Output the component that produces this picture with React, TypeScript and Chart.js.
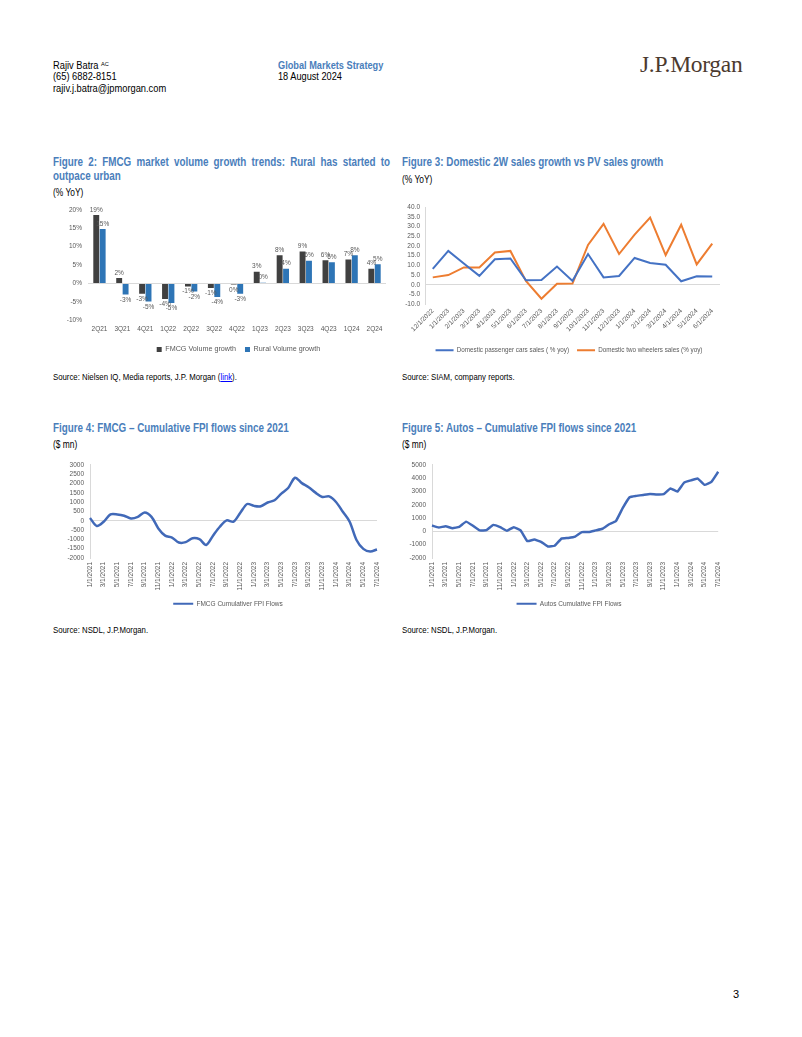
import React, { useEffect, useRef } from "react";
import { Chart, registerables } from "chart.js";

Chart.register(...registerables);

// ---------- Figure 2 data ----------
const fig2Categories = ["2Q21", "3Q21", "4Q21", "1Q22", "2Q22", "3Q22", "4Q22", "1Q23", "2Q23", "3Q23", "4Q23", "1Q24", "2Q24"];
const fig2Fmcg = [18.6, 1.5, -2.8, -4.2, -0.8, -1.2, -0.3, 3.2, 7.7, 8.7, 6.3, 6.5, 4.0];
const fig2Rural = [14.8, -3.0, -4.9, -5.3, -2.2, -3.7, -2.8, 0.2, 4.0, 6.2, 5.8, 7.7, 5.2];

// ---------- Figure 3 data ----------
const fig3Labels = ["12/1/2022", "1/1/2023", "2/1/2023", "3/1/2023", "4/1/2023", "5/1/2023", "6/1/2023", "7/1/2023", "8/1/2023", "9/1/2023", "10/1/2023", "11/1/2023", "12/1/2023", "1/1/2024", "2/1/2024", "3/1/2024", "4/1/2024", "5/1/2024", "6/1/2024"];
const fig3Passenger = [8.2, 17.4, 10.9, 4.6, 13.1, 13.5, 2.3, 2.4, 9.4, 2.0, 15.8, 3.8, 4.5, 13.8, 11.2, 10.3, 1.8, 4.4, 4.3];
const fig3TwoWheelers = [3.8, 5.0, 8.9, 8.9, 16.6, 17.4, 2.0, -7.2, 0.5, 0.6, 20.5, 31.3, 15.8, 25.8, 34.6, 15.3, 30.9, 10.5, 21.2];

// ---------- Figure 4 / 5 data ----------
const monthLabels = [
  "1/1/2021", "2/1/2021", "3/1/2021", "4/1/2021", "5/1/2021", "6/1/2021", "7/1/2021", "8/1/2021", "9/1/2021", "10/1/2021", "11/1/2021", "12/1/2021",
  "1/1/2022", "2/1/2022", "3/1/2022", "4/1/2022", "5/1/2022", "6/1/2022", "7/1/2022", "8/1/2022", "9/1/2022", "10/1/2022", "11/1/2022", "12/1/2022",
  "1/1/2023", "2/1/2023", "3/1/2023", "4/1/2023", "5/1/2023", "6/1/2023", "7/1/2023", "8/1/2023", "9/1/2023", "10/1/2023", "11/1/2023", "12/1/2023",
  "1/1/2024", "2/1/2024", "3/1/2024", "4/1/2024", "5/1/2024", "6/1/2024", "7/1/2024",
];
const fig4Fmcg = [
  150, -280, -50, 340, 340, 270, 125, 210, 440, 210,
  -410, -800, -900, -1170, -1150, -940, -990, -1300, -800, -320,
  20, -50, 430, 900, 800, 780, 980, 1100, 1460, 1760,
  2310, 2020, 1800, 1510, 1280, 1310, 1010, 480, -50, -1030,
  -1510, -1650, -1540,
];
const fig5Autos = [
  440, 290, 390, 245, 340, 735, 420, 75, 100, 490,
  320, 50, 320, 75, -735, -610, -785, -1130, -1080, -540,
  -490, -390, -50, -50, 75, 200, 540, 785, 1765, 2570,
  2670, 2745, 2820, 2770, 2795, 3235, 2990, 3670, 3840, 3970,
  3500, 3725, 4485,
];

const CHART_FONT = '"Liberation Sans", Arial, sans-serif';
const TEXT_GRAY = "#595959";
const AXIS_GRAY = "#d9d9d9";
const TITLE_BLUE = "#4a7ebb";

const zeroGrid = {
  drawTicks: false,
  color: (c: any) => (c.tick && c.tick.value === 0 ? AXIS_GRAY : "rgba(0,0,0,0)"),
  lineWidth: 1,
};

const lineLegendLabels = (chart: any) =>
  Chart.defaults.plugins.legend.labels.generateLabels(chart).map((l: any) => ({
    ...l,
    fillStyle: l.strokeStyle,
    lineWidth: 0,
  }));

// shifts the legend horizontally by a given number of pixels
function legendShift(dx: number) {
  return {
    id: "legendShift",
    beforeDraw(chart: any) {
      const lg = chart.legend;
      if (lg && !lg._shifted) {
        lg.left += dx;
        lg.right += dx;
        lg._shifted = true;
      }
    },
  };
}

const barValueLabels = {
  id: "barValueLabels",
  afterDatasetsDraw(chart: any) {
    const ctx = chart.ctx;
    ctx.save();
    ctx.font = `6.5px ${CHART_FONT}`;
    ctx.fillStyle = TEXT_GRAY;
    ctx.textAlign = "center";
    chart.data.datasets.forEach((ds: any, di: number) => {
      const meta = chart.getDatasetMeta(di);
      meta.data.forEach((bar: any, i: number) => {
        const v = ds.data[i];
        const t = String(Math.round(v)) + "%";
        if (v >= 0) {
          ctx.textBaseline = "bottom";
          ctx.fillText(t, bar.x, bar.y - 2);
        } else {
          ctx.textBaseline = "top";
          ctx.fillText(t, bar.x, bar.y + 2);
        }
      });
    });
    ctx.restore();
  },
};

function ChartBox({ config, style }: { config: any; style: React.CSSProperties }) {
  const ref = useRef<HTMLCanvasElement | null>(null);
  useEffect(() => {
    if (!ref.current) return;
    const chart = new Chart(ref.current, config);
    return () => chart.destroy();
  }, []);
  return (
    <div style={{ position: "absolute", ...style }}>
      <canvas ref={ref} />
    </div>
  );
}

function fixWidth(w: number) {
  return (scale: any) => {
    scale.width = w;
  };
}
function fixHeight(h: number) {
  return (scale: any) => {
    scale.height = h;
  };
}

const fig2Config = {
  type: "bar",
  data: {
    labels: fig2Categories,
    datasets: [
      { label: "FMCG Volume growth", data: fig2Fmcg, backgroundColor: "#404040", categoryPercentage: 0.56, barPercentage: 0.92 },
      { label: "Rural Volume growth", data: fig2Rural, backgroundColor: "#2e75b6", categoryPercentage: 0.56, barPercentage: 0.92 },
    ],
  },
  options: {
    animation: false,
    responsive: true,
    maintainAspectRatio: false,
    layout: { padding: { top: 9, right: 9, left: 0, bottom: 2 } },
    plugins: {
      legend: {
        position: "bottom",
        labels: { boxWidth: 5, boxHeight: 5, padding: 9, color: TEXT_GRAY, font: { family: CHART_FONT, size: 7.2 } },
      },
      tooltip: { enabled: false },
    },
    scales: {
      x: {
        grid: { display: false, drawTicks: false },
        border: { display: false },
        ticks: { color: TEXT_GRAY, font: { family: CHART_FONT, size: 6.5 }, padding: 5, maxRotation: 0 },
        afterFit: fixHeight(16.5),
      },
      y: {
        min: -10,
        max: 20,
        ticks: { stepSize: 5, autoSkip: false, color: TEXT_GRAY, font: { family: CHART_FONT, size: 6.5 }, padding: 6, callback: (v: any) => v + "%" },
        grid: zeroGrid,
        border: { display: false },
        afterFit: fixWidth(33),
      },
    },
  },
  plugins: [barValueLabels, legendShift(18)],
};

const fig3Config = {
  type: "line",
  data: {
    labels: fig3Labels,
    datasets: [
      { label: "Domestic passenger cars sales ( % yoy)", data: fig3Passenger, borderColor: "#4472c4", backgroundColor: "#4472c4", borderWidth: 2, pointRadius: 0, tension: 0 },
      { label: "Domestic two wheelers sales (% yoy)", data: fig3TwoWheelers, borderColor: "#ed7d31", backgroundColor: "#ed7d31", borderWidth: 2, pointRadius: 0, tension: 0 },
    ],
  },
  options: {
    animation: false,
    responsive: true,
    maintainAspectRatio: false,
    layout: { padding: { top: 9, right: 10, left: 0, bottom: 4.5 } },
    plugins: {
      legend: {
        position: "bottom",
        labels: { boxWidth: 18, boxHeight: 2, padding: 8, color: TEXT_GRAY, font: { family: CHART_FONT, size: 6.3 }, generateLabels: lineLegendLabels },
      },
      tooltip: { enabled: false },
    },
    scales: {
      x: {
        offset: true,
        grid: { display: false, drawTicks: false },
        border: { display: false },
        ticks: { color: TEXT_GRAY, font: { family: CHART_FONT, size: 6.5 }, padding: 3, autoSkip: false, minRotation: 45, maxRotation: 45 },
        afterFit: fixHeight(35),
      },
      y: {
        min: -10,
        max: 40,
        ticks: { stepSize: 5, autoSkip: false, color: TEXT_GRAY, font: { family: CHART_FONT, size: 6.5 }, padding: 5, callback: (v: any) => Number(v).toFixed(1) },
        grid: zeroGrid,
        border: { display: true, color: AXIS_GRAY },
        afterFit: fixWidth(25),
      },
    },
  },
  plugins: [legendShift(9)],
};

function flowConfig(label: string, data: number[], min: number, max: number, step: number, yWidth: number, rightPad: number, tension: number, dx: number) {
  return {
    type: "line",
    data: {
      labels: monthLabels,
      datasets: [{ label, data, borderColor: "#4169b8", backgroundColor: "#4169b8", borderWidth: 2.5, pointRadius: 0, tension }],
    },
    options: {
      animation: false,
      responsive: true,
      maintainAspectRatio: false,
      layout: { padding: { top: 9, right: rightPad, left: 0, bottom: 4 } },
      plugins: {
        legend: {
          position: "bottom",
          labels: { boxWidth: 20, boxHeight: 2, padding: 8, color: TEXT_GRAY, font: { family: CHART_FONT, size: 6.5 }, generateLabels: lineLegendLabels },
        },
        tooltip: { enabled: false },
      },
      scales: {
        x: {
          offset: false,
          grid: { display: false, drawTicks: false },
          border: { display: false },
          ticks: {
            color: TEXT_GRAY,
            font: { family: CHART_FONT, size: 6.5 },
            padding: 4,
            autoSkip: false,
            minRotation: 90,
            maxRotation: 90,
            callback: (_v: any, i: number) => (i % 2 === 0 ? monthLabels[i] : ""),
          },
          afterFit: fixHeight(34.5),
        },
        y: {
          min,
          max,
          ticks: { stepSize: step, autoSkip: false, color: TEXT_GRAY, font: { family: CHART_FONT, size: 6.5 }, padding: 6, callback: (v: any) => String(v) },
          grid: zeroGrid,
          border: { display: true, color: AXIS_GRAY },
          afterFit: fixWidth(yWidth),
        },
      },
    },
    plugins: [legendShift(dx)],
  };
}

const fig4Config = flowConfig("FMCG Cumulativer FPI Flows", fig4Fmcg, -2000, 3000, 500, 35, 18, 0.3, 12);
const fig5Config = flowConfig("Autos Cumulative FPI Flows", fig5Autos, -2000, 5000, 1000, 32, 10, 0.1, 9);

const txt = (extra: React.CSSProperties): React.CSSProperties => ({
  position: "absolute",
  whiteSpace: "nowrap",
  fontFamily: CHART_FONT,
  color: "#000",
  transformOrigin: "0 0",
  ...extra,
});

const NARROW_SCALE = "scaleX(0.82)";

const titleStyle = (left: number, top: number): React.CSSProperties =>
  txt({ left, top, fontWeight: "bold", fontSize: 12, color: TITLE_BLUE, lineHeight: "14px", transform: NARROW_SCALE });

const unitStyle = (left: number, top: number): React.CSSProperties =>
  txt({ left, top, fontSize: 10.5, lineHeight: "12px", transform: "scaleX(0.8)" });

const sourceStyle = (left: number, top: number): React.CSSProperties =>
  txt({ left, top, fontSize: 9.5, lineHeight: "11px", transform: "scaleX(0.82)" });

export default function App() {
  useEffect(() => {
    document.body.style.margin = "0";
  }, []);
  return (
    <div style={{ position: "absolute", left: 0, top: 0, width: 802, height: 1037, background: "#fff", overflow: "hidden" }}>
      {/* Header */}
      <div style={txt({ left: 53, top: 60, fontSize: 10, lineHeight: "11.3px", transform: "scaleX(0.93)" })}>
        Rajiv Batra <sup style={{ fontSize: 6, verticalAlign: "top", position: "relative", top: -1 }}>AC</sup>
        <br />
        (65) 6882-8151
        <br />
        rajiv.j.batra@jpmorgan.com
      </div>
      <div style={txt({ left: 278, top: 60, fontSize: 10, lineHeight: "11.3px", transform: "scaleX(0.92)" })}>
        <span style={{ color: TITLE_BLUE, fontWeight: "bold" }}>Global Markets Strategy</span>
        <br />
        18 August 2024
      </div>
      <div style={txt({ left: 640, top: 51, fontFamily: '"Liberation Serif", "Times New Roman", serif', fontSize: 23.5, color: "#4b3a2f", letterSpacing: -0.3 })}>
        J.P.Morgan
      </div>

      {/* Figure 2 */}
      <div
        style={{
          position: "absolute",
          left: 53,
          top: 155,
          width: 411,
          fontFamily: CHART_FONT,
          fontWeight: "bold",
          fontSize: 12,
          color: TITLE_BLUE,
          lineHeight: "14px",
          textAlign: "justify",
          textAlignLast: "left",
          transform: NARROW_SCALE,
          transformOrigin: "0 0",
        }}
      >
        Figure 2: FMCG market volume growth trends: Rural has started to outpace urban
      </div>
      <div style={unitStyle(53, 186)}>(% YoY)</div>
      <ChartBox config={fig2Config} style={{ left: 55, top: 200, width: 340, height: 165 }} />
      <div style={sourceStyle(53, 371)}>
        Source: Nielsen IQ, Media reports, J.P. Morgan (
        <span style={{ color: "#0000ff", textDecoration: "underline" }}>link</span>).
      </div>

      {/* Figure 3 */}
      <div style={titleStyle(402, 155)}>Figure 3: Domestic 2W sales growth vs PV sales growth</div>
      <div style={unitStyle(402, 173)}>(% YoY)</div>
      <ChartBox config={fig3Config} style={{ left: 400, top: 198, width: 330, height: 170 }} />
      <div style={sourceStyle(402, 371)}>Source: SIAM, company reports.</div>

      {/* Figure 4 */}
      <div style={titleStyle(53, 421)}>Figure 4: FMCG – Cumulative FPI flows since 2021</div>
      <div style={unitStyle(53, 438)}>($ mn)</div>
      <ChartBox config={fig4Config} style={{ left: 55, top: 455, width: 340, height: 166 }} />
      <div style={sourceStyle(53, 624)}>Source: NSDL, J.P.Morgan.</div>

      {/* Figure 5 */}
      <div style={titleStyle(402, 421)}>Figure 5: Autos – Cumulative FPI flows since 2021</div>
      <div style={unitStyle(402, 438)}>($ mn)</div>
      <ChartBox config={fig5Config} style={{ left: 400, top: 455, width: 330, height: 166 }} />
      <div style={sourceStyle(402, 624)}>Source: NSDL, J.P.Morgan.</div>

      {/* Page number */}
      <div style={txt({ left: 733, top: 988, fontSize: 11 })}>3</div>
    </div>
  );
}
